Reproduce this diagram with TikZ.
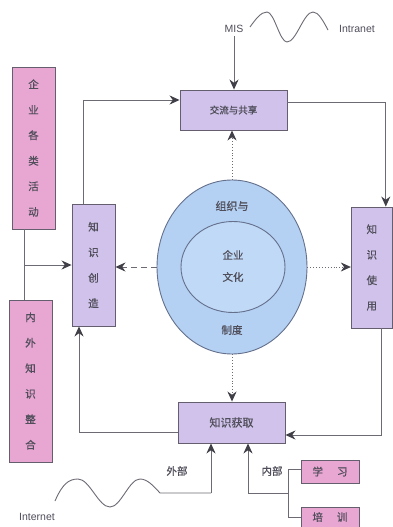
\documentclass[tikz,border=0pt]{standalone}
\usepackage{fontspec}
\setmainfont{Liberation Sans}
\newfontfamily\cjk[FakeBold=0.6]{Noto Sans CJK SC}
\usetikzlibrary{arrows.meta,shapes.geometric}
\definecolor{lineg}{RGB}{110,106,116}
\definecolor{tipg}{RGB}{64,62,70}
\definecolor{purp}{RGB}{208,194,234}
\definecolor{pinkf}{RGB}{232,166,210}
\definecolor{bordg}{RGB}{100,94,110}
\definecolor{txtg}{RGB}{80,78,90}
\definecolor{blueout}{RGB}{180,208,242}
\definecolor{bluein}{RGB}{192,217,246}
\definecolor{blueb}{RGB}{100,112,140}
\tikzset{
  boxbase/.style={draw=bordg, line width=0.9pt, inner sep=0pt, text=txtg, align=center,
    font=\cjk\fontsize{10.5}{25.5}\selectfont},
  pbox/.style={boxbase, fill=purp},
  kbox/.style={boxbase, fill=pinkf},
  wire/.style={draw=lineg, line width=0.9pt},
  arr/.style={wire, -{Stealth[length=10pt,width=9pt,fill=tipg,color=tipg]}},
  longdash/.style={dash pattern=on 6pt off 4pt},
  lbl/.style={text=txtg, font=\fontsize{10.5}{12}\selectfont, inner sep=0pt},
  clbl/.style={text=txtg, font=\cjk\fontsize{10.5}{12}\selectfont, inner sep=0pt},
}
\begin{document}
\begin{tikzpicture}[x=1pt,y=-1pt]
\path[fill=white] (0,0) rectangle (393,527);
\useasboundingbox (0,0) rectangle (393,527);

% boxes
\node[pbox, minimum width=107, minimum height=40, font=\cjk\fontsize{9.5}{11}\selectfont] (share) at (233.5,110) {交流与共享};
\node[pbox, minimum width=107, minimum height=41, font=\cjk\fontsize{11}{12}\selectfont] (acq) at (231.5,422.5) {知识获取};
\node[pbox, minimum width=43, minimum height=122] (create) at (93.5,265) {知\\识\\创\\造};
\node[pbox, minimum width=41, minimum height=121] (use) at (371.8,267.5) {知\\识\\使\\用};
\node[kbox, minimum width=43, minimum height=162] (act) at (33.5,148) {企\\业\\各\\类\\活\\动};
\node[kbox, minimum width=43, minimum height=162] (integ) at (30.5,381) {内\\外\\知\\识\\整\\合};
\node[kbox, minimum width=58, minimum height=23] (study) at (330,471.5) {学\hspace{14pt}习};
\node[kbox, minimum width=58, minimum height=20] (train) at (330,517) {培\hspace{14pt}训};

% ellipse
\node[ellipse, draw=blueb, line width=0.9pt, fill=blueout, minimum width=150, minimum height=174, inner sep=0pt] (outer) at (232,267) {};
\node[ellipse, draw=blueb, line width=0.9pt, fill=bluein, minimum width=104, minimum height=91, inner sep=0pt] (inner) at (233,267) {};
\node[clbl, font=\cjk\fontsize{11}{12}\selectfont] (t1) at (232,206) {组织与};
\node[clbl, align=center, font=\cjk\fontsize{10.5}{22}\selectfont] (t2) at (233,266) {企业\\文化};
\node[clbl, font=\cjk\fontsize{10.5}{12}\selectfont] (t3) at (232,330) {制度};

% labels
\node[lbl] (mis) at (234,29) {MIS};
\node[lbl] (intra) at (357,29) {Intranet};
\node[lbl] (inet) at (37,517) {Internet};
\node[clbl] (ext) at (177,471) {外部};
\node[clbl] (intl) at (272,471) {内部};

% MIS wave
\coordinate (mw) at (250,27);
\draw[wire] (mw) sin (267,12) cos (277,27) sin (287,42) cos (300,27) sin (313,12) cos (328,30);
\draw[arr] ([yshift=-3pt]mis.south) -- (mis.south |- share.north);

% main loop
\draw[arr] ([xshift=-10.5pt]create.north) |- ([yshift=10pt]share.west);
\draw[arr] ([yshift=8pt]share.east) -| ([xshift=14pt]use.north);
\draw[arr] ([xshift=10pt]use.south) |- ([yshift=-12.5pt]acq.east);
\draw[arr] ([yshift=-9.5pt]acq.west) -| ([xshift=-14.5pt]create.south);

% left side
\draw[wire] ([xshift=-9.5pt]act.south) -- ([xshift=-6.5pt]integ.north);
\coordinate (lj) at (24,265);
\draw[arr] (lj) -- (lj -| create.west);

% from ellipse
\draw[arr, longdash] (outer.west) -- (outer.west -| create.east);
\draw[arr, dotted] (outer.east) -- (outer.east -| use.west);
\draw[arr, dotted] (outer.north) -- (outer.north |- share.south);
\draw[arr, dotted] (outer.south) -- (outer.south |- acq.north);

% Internet wave
\coordinate (iw) at (55,501);
\coordinate (exj) at (211,493);
\draw[wire] (iw) .. controls (62,485) and (68,479) .. (78,479) cos (94,493) sin (110,507) cos (125,493) sin (140,479) cos (160,493) -- (exj);
\draw[arr] (exj) -- (exj |- acq.south);

% internal
\coordinate (inj) at (248,493);
\coordinate (br) at (288,493);
\draw[arr] (inj) -- (inj |- acq.south);
\draw[wire] (inj) -- (br);
\draw[wire] ([yshift=2.5pt]study.west) -- ([yshift=2.5pt]study.west -| br) -- (train.west -| br) -- (train.west);
\end{tikzpicture}
\end{document}
